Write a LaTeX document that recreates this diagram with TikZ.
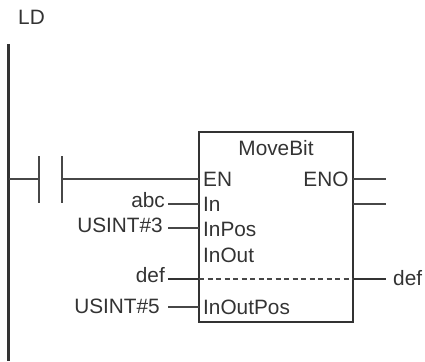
\documentclass[tikz,border=0pt]{standalone}
\usepackage{fontspec}
\setmainfont{Liberation Sans}
\definecolor{ldink}{gray}{0.2}
\definecolor{ldwire}{gray}{0.28}
\tikzset{
  wire/.style={line width=2pt,ldwire},
  rail/.style={line width=3pt,ldink},
  pinlabel/.style={font=\fontsize{20.8}{24}\selectfont,text=ldink,inner sep=0pt,anchor=base west},
  arglabel/.style={font=\fontsize{20.8}{24}\selectfont,text=ldink,inner sep=0pt,anchor=base east},
}
\begin{document}
\begin{tikzpicture}[x=1pt,y=-1pt]
\useasboundingbox (0,0) rectangle (425,361);
\node[pinlabel] (ld) at (18,25) {LD};
% power rail
\coordinate (railtop) at (8.5,44);
\coordinate (railbot) at (8.5,361);
\draw[rail] (railtop)--(railbot);
% contact
\coordinate (railtap) at (8.5,179);
\coordinate (plateA) at (39,179);
\coordinate (plateB) at (62,179);
\coordinate (plateAtop) at (39,156);
\coordinate (plateAbot) at (39,203);
\coordinate (plateBtop) at (62,156);
\coordinate (plateBbot) at (62,203);
\draw[wire] (plateAtop)--(plateAbot);
\draw[wire] (plateBtop)--(plateBbot);
\draw[wire] (railtap)--(plateA);
% function block
\coordinate (boxnw) at (199,132);
\coordinate (boxse) at (353,322);
\draw[wire,ldink] (boxnw) rectangle (boxse);
\node[pinlabel,anchor=base] (movebit) at (276,155) {MoveBit};
\node[pinlabel] (en) at (203,186) {EN};
\node[pinlabel] (in) at (203,211.7) {In};
\node[pinlabel] (inpos) at (203,236.7) {InPos};
\node[pinlabel] (inout) at (203,262.7) {InOut};
\node[pinlabel] (inoutpos) at (203,314) {InOutPos};
\node[pinlabel,anchor=base east] (eno) at (348.7,186) {ENO};
% inputs
\node[arglabel] (abc) at (165,207) {abc};
\node[arglabel] (usintA) at (163,232.7) {USINT\#3};
\node[arglabel] (defin) at (165,282.7) {def};
\node[arglabel] (usintB) at (160,313) {USINT\#5};
\coordinate (enpin) at (199,179);
\coordinate (inpin) at (199,204);
\coordinate (inpospin) at (199,228);
\coordinate (inoutpin) at (199,279);
\coordinate (inoutpospin) at (199,307);
\coordinate (abcend) at (168,204);
\coordinate (usintAend) at (168,228);
\coordinate (definend) at (168,279);
\coordinate (usintBend) at (168,307);
\draw[wire] (plateB)--(enpin);
\draw[wire] (abcend)--(inpin);
\draw[wire] (usintAend)--(inpospin);
\draw[wire,ldink] (definend)--(inoutpin);
\draw[wire] (usintBend)--(inoutpospin);
% outputs
\coordinate (enopin) at (353,179);
\coordinate (enoend) at (386,179);
\coordinate (outpin) at (353,204);
\coordinate (outend) at (386,204);
\coordinate (defpin) at (353,279);
\coordinate (defend) at (386,279);
\node[pinlabel] (defout) at (393,285) {def};
\draw[wire] (enopin)--(enoend);
\draw[wire] (outpin)--(outend);
\draw[wire,ldink] (defpin)--(defend);
\draw[wire,dash pattern=on 5pt off 3.5pt] (inoutpin)--(defpin);
\end{tikzpicture}
\end{document}
